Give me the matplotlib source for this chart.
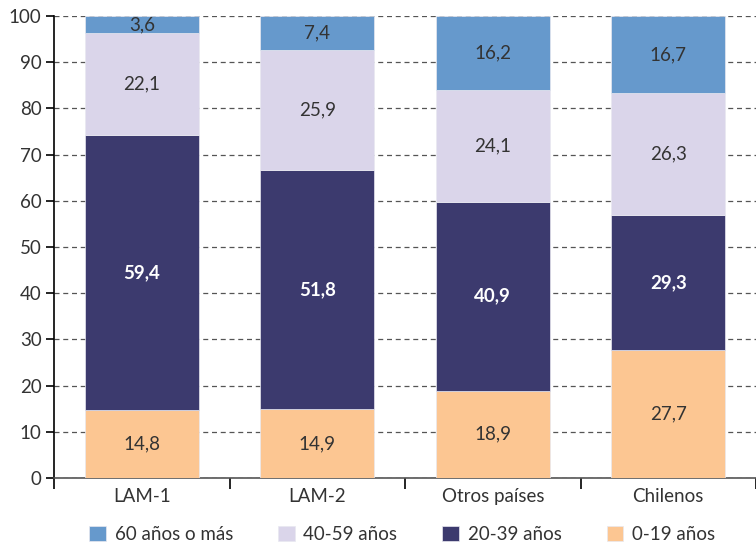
import matplotlib
matplotlib.use("Agg")
import matplotlib.pyplot as plt
import numpy as np

categories = ["LAM-1", "LAM-2", "Otros países", "Chilenos"]
series_names = ["0-19 años", "20-39 años", "40-59 años", "60 años o más"]
v_0_19 = [14.8, 14.9, 18.9, 27.7]
v_20_39 = [59.4, 51.8, 40.9, 29.3]
v_40_59 = [22.1, 25.9, 24.1, 26.3]
v_60 = [3.6, 7.4, 16.2, 16.7]
colors = ["#FCC692", "#3C3A6E", "#DAD5EA", "#6699CC"]
label_colors = ["#333333", "white", "#333333", "#333333"]

plt.rcParams['font.family'] = ['Lato', 'DejaVu Sans']
FS = 13.5

fig = plt.figure(figsize=(7.56, 5.48), dpi=100)
ax = fig.add_axes([54/756, 1-478/548, 1-54/756, (478-16)/548])

x = np.arange(len(categories))
bottom = np.zeros(len(categories))
handles = []
for vals, col, lc, name in zip([v_0_19, v_20_39, v_40_59, v_60], colors, label_colors, series_names):
    vals = np.array(vals)
    b = ax.bar(x, vals, width=0.65, bottom=bottom, color=col, edgecolor='#E8E8F0', linewidth=0.5, zorder=3, label=name)
    handles.append(b)
    for xi, v, bt in zip(x, vals, bottom):
        txt = f"{v:.1f}".replace('.', ',')
        ax.text(xi, bt + v/2, txt, ha='center', va='center', fontsize=FS, color=lc,
                fontweight='bold' if lc == 'white' else 'normal', zorder=4)
    bottom += vals

ax.set_xlim(-0.5, len(categories)-0.5)
ax.set_ylim(0, 100)
ax.set_yticks(np.arange(0, 101, 10))
ax.yaxis.grid(True, linestyle=(0, (4, 3)), color='#555555', linewidth=0.9, zorder=0)
ax.set_axisbelow(True)
ax.tick_params(axis='y', labelsize=FS, length=6, width=1.2, colors='black', labelcolor='#333333', pad=3)
ax.set_xticks(x)
ax.set_xticklabels(categories, fontsize=FS, color='#333333')
ax.tick_params(axis='x', length=0, pad=7)
ax.set_xticks(np.arange(-0.5, len(categories)), minor=True)
ax.tick_params(axis='x', which='minor', length=8, width=1.2, color='black')

for s in ['top', 'right']:
    ax.spines[s].set_visible(False)
ax.spines['left'].set_linewidth(1.2)
ax.spines['bottom'].set_linewidth(1.2)
ax.spines['bottom'].set_color('#555555')

leg = fig.legend(handles=handles[::-1], labels=series_names[::-1], loc='lower center',
                 bbox_to_anchor=(0.532, -0.022), ncol=4, frameon=False, fontsize=FS,
                 handlelength=0.9, handleheight=0.9, handletextpad=0.45, columnspacing=2.4)
for t in leg.get_texts():
    t.set_color('#333333')

fig.savefig("out.png", dpi=100)
